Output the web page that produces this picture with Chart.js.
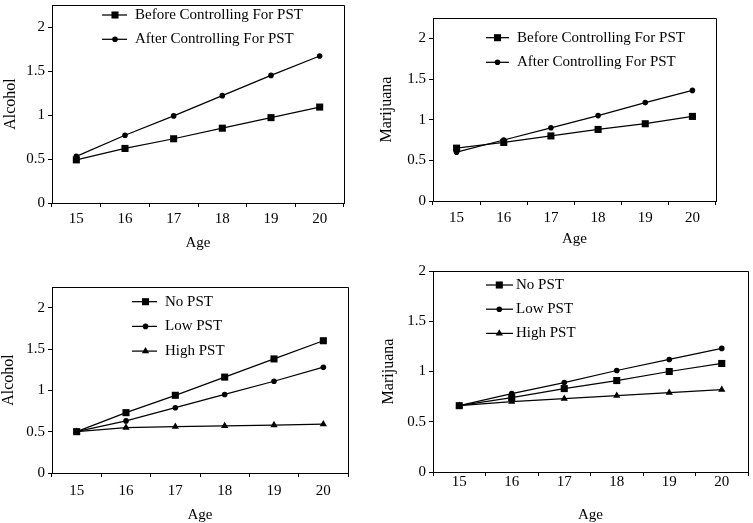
<!DOCTYPE html>
<html><head><meta charset="utf-8">
<script src="https://cdn.jsdelivr.net/npm/chart.js@4.4.0/dist/chart.umd.min.js"></script>
<style>
html,body{margin:0;padding:0;background:#fff;}
body{width:753px;height:523px;position:relative;overflow:hidden;}
canvas{position:absolute;}
</style></head><body>
<canvas id="c1" width="376" height="260" style="left:0;top:0"></canvas>
<canvas id="c2" width="377" height="260" style="left:376px;top:0"></canvas>
<canvas id="c3" width="376" height="263" style="left:0;top:260px"></canvas>
<canvas id="c4" width="377" height="263" style="left:376px;top:260px"></canvas>
<script>
// ---- data ----
const ages = ['15', '16', '17', '18', '19', '20'];
const yTickLabels = ['0', '0.5', '1', '1.5', '2'];

const alcBefore = [0.49, 0.62, 0.73, 0.85, 0.97, 1.09];
const alcAfter  = [0.53, 0.77, 0.99, 1.22, 1.45, 1.67];
const marBefore = [0.65, 0.72, 0.80, 0.88, 0.95, 1.04];
const marAfter  = [0.60, 0.75, 0.90, 1.05, 1.21, 1.36];

const alcNo   = [0.50, 0.73, 0.94, 1.16, 1.38, 1.60];
const alcLow  = [0.50, 0.63, 0.79, 0.95, 1.11, 1.28];
const alcHigh = [0.50, 0.55, 0.56, 0.57, 0.58, 0.59];
const marNo   = [0.66, 0.74, 0.83, 0.91, 1.00, 1.08];
const marLow  = [0.66, 0.78, 0.89, 1.01, 1.12, 1.23];
const marHigh = [0.66, 0.70, 0.73, 0.76, 0.79, 0.82];

const labelsBA = ['Before Controlling For PST', 'After Controlling For PST'];
const labelsPST = ['No PST', 'Low PST', 'High PST'];
const xTitle = 'Age';
const yTitles = ['Alcohol', 'Marijuana', 'Alcohol', 'Marijuana'];

// ---- styling ----
const FONT = '"Liberation Serif", "Times New Roman", serif';
const styles = {
  rect: {pointStyle: 'rect', pointRadius: 5},
  circle: {pointStyle: 'circle', pointRadius: 2.8},
  triangle: {pointStyle: 'triangle', pointRadius: 4.2}
};

function mkDs(label, data, st) {
  return Object.assign({
    label, data,
    borderColor: '#000', borderWidth: 1.25,
    backgroundColor: '#000',
    pointBackgroundColor: '#000', pointBorderWidth: 0,
    pointHoverRadius: 0, tension: 0, fill: false
  }, styles[st]);
}

const framePlugin = {
  id: 'frame',
  afterDraw(chart) {
    const {ctx, chartArea: a} = chart;
    const al = v => Math.round(v - 0.5) + 0.5;
    ctx.save();
    ctx.strokeStyle = '#000'; ctx.lineWidth = 1;
    ctx.beginPath();
    ctx.moveTo(al(a.left), al(a.top));
    ctx.lineTo(al(a.right), al(a.top));
    ctx.lineTo(al(a.right), al(a.bottom));
    ctx.stroke();
    ctx.restore();
  }
};

const keyPlugin = {
  id: 'key',
  afterDraw(chart, args, o) {
    const ctx = chart.ctx;
    ctx.save();
    chart.data.datasets.forEach((ds, i) => {
      const y = o.y + i * o.gap;
      ctx.strokeStyle = '#000'; ctx.lineWidth = ds.borderWidth;
      ctx.beginPath(); ctx.moveTo(o.x0, y); ctx.lineTo(o.x1, y); ctx.stroke();
      ctx.fillStyle = '#000';
      Chart.helpers.drawPoint(ctx, {pointStyle: ds.pointStyle, radius: ds.pointRadius, rotation: 0, borderWidth: 0}, o.mx, y);
      ctx.font = '15px ' + FONT;
      ctx.textBaseline = 'middle'; ctx.textAlign = 'left';
      ctx.fillText(ds.label, o.tx, y);
    });
    ctx.restore();
  }
};

function makeChart(id, datasets, yTitle, g) {
  const cv = document.getElementById(id);
  const H = cv.height, W = cv.width;
  new Chart(cv, {
    type: 'line',
    data: {labels: ages, datasets},
    plugins: [framePlugin, keyPlugin],
    options: {
      responsive: false, animation: false, devicePixelRatio: 1,
      events: [],
      layout: {padding: {left: 0, top: g.t, right: W - g.r, bottom: 0}},
      plugins: {legend: {display: false}, tooltip: {enabled: false}, key: g.key},
      scales: {
        x: {
          type: 'category', offset: true,
          grid: {display: true, drawOnChartArea: false, offset: true, tickLength: 4, color: '#000', lineWidth: 1},
          border: {display: true, color: '#000', width: 1},
          ticks: {color: '#000', font: {family: FONT, size: 15}, padding: g.xlp, maxRotation: 0, autoSkip: false},
          title: {display: true, text: xTitle, color: '#000', font: {family: FONT, size: 15}, padding: {top: 0, bottom: g.xtp}},
          afterFit(s) { s.height = H - g.b; s.paddingLeft = 0; s.paddingRight = 0; }
        },
        y: {
          min: 0, max: g.ymax,
          grid: {display: true, drawOnChartArea: false, tickLength: 4, color: '#000', lineWidth: 1},
          border: {display: true, color: '#000', width: 1},
          ticks: {stepSize: 0.5, includeBounds: false, color: '#000', font: {family: FONT, size: 15}, padding: 3,
                  callback: (v, i) => yTickLabels[i]},
          title: {display: true, text: yTitle, color: '#000', font: {family: FONT, size: 16}, padding: {top: g.ytp, bottom: 0}},
          afterFit(s) { s.width = g.l; s.paddingTop = 0; s.paddingBottom = 0; }
        }
      }
    }
  });
}

makeChart('c1', [mkDs(labelsBA[0], alcBefore, 'rect'), mkDs(labelsBA[1], alcAfter, 'circle')], yTitles[0],
  {l: 52, r: 344, t: 0, b: 203, ymax: 2.25, xlp: 3, xtp: 8, ytp: 1.5, key: {x0: 102, x1: 127, mx: 115, tx: 135, y: 15, gap: 24.3}});
makeChart('c2', [mkDs(labelsBA[0], marBefore, 'rect'), mkDs(labelsBA[1], marAfter, 'circle')], yTitles[1],
  {l: 57, r: 340, t: 18, b: 201, ymax: 2.25, xlp: 4, xtp: 11.5, ytp: 1, key: {x0: 110, x1: 133, mx: 121.5, tx: 141, y: 37.7, gap: 24.6}});
makeChart('c3', [mkDs(labelsPST[0], alcNo, 'rect'), mkDs(labelsPST[1], alcLow, 'circle'), mkDs(labelsPST[2], alcHigh, 'triangle')], yTitles[2],
  {l: 52, r: 348, t: 27, b: 213, ymax: 2.25, xlp: 5, xtp: -1, ytp: -0.5, key: {x0: 132, x1: 157, mx: 145.5, tx: 165, y: 41.7, gap: 24.7}});
makeChart('c4', [mkDs(labelsPST[0], marNo, 'rect'), mkDs(labelsPST[1], marLow, 'circle'), mkDs(labelsPST[2], marHigh, 'triangle')], yTitles[3],
  {l: 57, r: 376, t: 11, b: 212, ymax: 2, xlp: -3, xtp: -1, ytp: 3, key: {x0: 110, x1: 137, mx: 123.3, tx: 140, y: 25, gap: 24.2}});
</script>
</body></html>
